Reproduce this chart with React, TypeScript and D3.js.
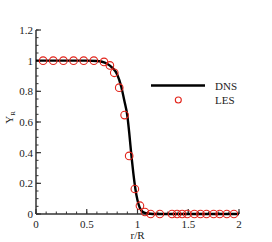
import React, { useRef, useEffect } from 'react';
import * as d3 from 'd3';

// DNS profile
const dnsR = [0, 0.2, 0.4, 0.5, 0.6, 0.65, 0.7, 0.75, 0.8, 0.84, 0.87, 0.9, 0.92, 0.94, 0.96, 0.98, 1.0, 1.02, 1.05, 1.1, 1.15, 1.5, 2.0];
const dnsY = [1, 1, 1, 1, 0.998, 0.993, 0.98, 0.955, 0.91, 0.83, 0.74, 0.64, 0.52, 0.38, 0.26, 0.16, 0.09, 0.045, 0.015, 0.003, 0, 0, 0];

// LES samples
const lesR = [0.07, 0.17, 0.27, 0.37, 0.47, 0.57, 0.67, 0.728, 0.771, 0.82, 0.873, 0.918, 0.974, 1.024, 1.073, 1.13, 1.22, 1.34, 1.39, 1.44, 1.49, 1.56, 1.62, 1.68, 1.75, 1.81, 1.88, 1.95];
const lesY = [1, 1, 1, 1, 1, 1, 0.992, 0.969, 0.921, 0.824, 0.645, 0.379, 0.163, 0.054, 0.013, 0, 0, 0, 0, 0, 0, 0, 0, 0, 0, 0, 0, 0];

const xTicks = [0, 0.5, 1, 1.5, 2];
const yTicks = [0, 0.2, 0.4, 0.6, 0.8, 1, 1.2];

const App = () => {
  const svgRef = useRef<SVGSVGElement>(null);

  useEffect(() => {
    const svg = d3.select(svgRef.current);
    svg.selectAll('*').remove();

    const width = 272;
    const height = 242;
    const margin = { top: 30, right: 33, bottom: 28, left: 36 };
    const font = '"Liberation Serif", "Times New Roman", serif';

    const x = d3.scaleLinear().domain([0, 2]).range([margin.left, width - margin.right]);
    const y = d3.scaleLinear().domain([0, 1.2]).range([height - margin.bottom, margin.top]);

    const g = svg.append('g');

    // minor ticks
    const xMinor = d3.range(0, 2.0001, 0.1).map(d => +d.toFixed(2));
    const yMinor = d3.range(0, 1.2001, 0.05).map(d => +d.toFixed(2));
    g.selectAll('.xminor').data(xMinor).join('line')
      .attr('x1', d => x(d)).attr('x2', d => x(d))
      .attr('y1', y(0)).attr('y2', y(0) - 2.5)
      .attr('stroke', '#333').attr('stroke-width', 1);
    g.selectAll('.yminor').data(yMinor).join('line')
      .attr('x1', x(0)).attr('x2', x(0) + 2.5)
      .attr('y1', d => y(d)).attr('y2', d => y(d))
      .attr('stroke', '#333').attr('stroke-width', 1);

    // major ticks
    g.selectAll('.xmajor').data(xTicks).join('line')
      .attr('x1', d => x(d)).attr('x2', d => x(d))
      .attr('y1', y(0)).attr('y2', y(0) - 5)
      .attr('stroke', '#333').attr('stroke-width', 1.2);
    g.selectAll('.ymajor').data(yTicks).join('line')
      .attr('x1', x(0)).attr('x2', x(0) + 5)
      .attr('y1', d => y(d)).attr('y2', d => y(d))
      .attr('stroke', '#333').attr('stroke-width', 1.2);

    // axis lines
    g.append('line')
      .attr('x1', x(0)).attr('x2', x(2)).attr('y1', y(0)).attr('y2', y(0))
      .attr('stroke', '#333').attr('stroke-width', 1.5);
    g.append('line')
      .attr('x1', x(0)).attr('x2', x(0)).attr('y1', y(0)).attr('y2', y(1.2))
      .attr('stroke', '#333').attr('stroke-width', 1.5);

    // tick labels
    g.selectAll('.xlab').data(xTicks).join('text')
      .attr('x', d => x(d)).attr('y', y(0) + 14)
      .attr('text-anchor', 'middle')
      .attr('font-family', font).attr('font-size', 11).attr('fill', '#222')
      .text(d => String(d));
    g.selectAll('.ylab').data(yTicks).join('text')
      .attr('x', x(0) - 3).attr('y', d => y(d) + 4)
      .attr('text-anchor', 'end')
      .attr('font-family', font).attr('font-size', 11).attr('fill', '#222')
      .text(d => String(d));

    // axis titles
    g.append('text')
      .attr('x', x(1)).attr('y', y(0) + 25)
      .attr('text-anchor', 'middle')
      .attr('font-family', font).attr('font-size', 11).attr('fill', '#222')
      .text('r/R');
    const yt = g.append('text')
      .attr('transform', `translate(13,${y(0.63)}) rotate(-90)`)
      .attr('text-anchor', 'middle')
      .attr('font-family', font).attr('font-size', 11).attr('fill', '#222');
    yt.append('tspan').text('Y');
    yt.append('tspan').attr('font-size', 7).attr('dy', 2).text('R');

    // DNS line
    const line = d3.line<number>()
      .x((_, i) => x(dnsR[i]))
      .y(d => y(d))
      .curve(d3.curveMonotoneX);
    g.append('path')
      .attr('d', line(dnsY))
      .attr('fill', 'none')
      .attr('stroke', '#000')
      .attr('stroke-width', 2.4);

    // LES circles
    g.selectAll('.les').data(lesY).join('circle')
      .attr('cx', (_, i) => x(lesR[i]))
      .attr('cy', d => y(d))
      .attr('r', 3.8)
      .attr('fill', 'none')
      .attr('stroke', '#e2231a')
      .attr('stroke-width', 1.1);

    // legend
    g.append('line')
      .attr('x1', 151).attr('x2', 205).attr('y1', 85.5).attr('y2', 85.5)
      .attr('stroke', '#000').attr('stroke-width', 2.4);
    g.append('text')
      .attr('x', 215).attr('y', 89.5)
      .attr('font-family', font).attr('font-size', 11).attr('fill', '#222')
      .text('DNS');
    g.append('circle')
      .attr('cx', 178.3).attr('cy', 100).attr('r', 3)
      .attr('fill', 'none').attr('stroke', '#e2231a').attr('stroke-width', 1.1);
    g.append('text')
      .attr('x', 215).attr('y', 104)
      .attr('font-family', font).attr('font-size', 11).attr('fill', '#222')
      .text('LES');
  }, []);

  return (
    <svg
      ref={svgRef}
      width={272}
      height={242}
      style={{ position: 'absolute', left: 0, top: 0, background: '#fff' }}
    />
  );
};

export default App;
